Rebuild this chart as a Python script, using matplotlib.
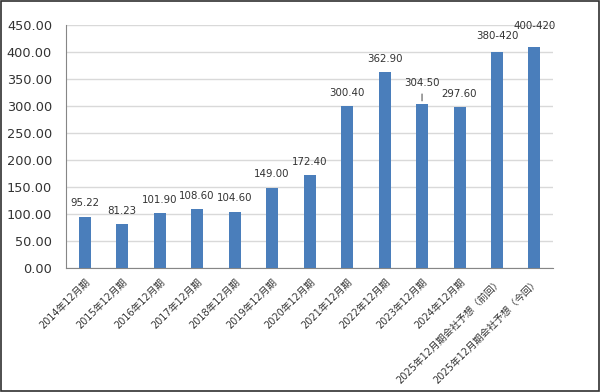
import matplotlib.pyplot as plt
import numpy as np

plt.rcParams['font.family'] = ['DejaVu Sans', 'Noto Sans CJK JP']

periods = ['2014年12月期', '2015年12月期', '2016年12月期', '2017年12月期',
           '2018年12月期', '2019年12月期', '2020年12月期', '2021年12月期',
           '2022年12月期', '2023年12月期', '2024年12月期',
           '2025年12月期会社予想（前回）', '2025年12月期会社予想（今回）']
values = [95.22, 81.23, 101.90, 108.60, 104.60, 149.00, 172.40,
          300.40, 362.90, 304.50, 297.60, 400, 410]
value_labels = ['95.22', '81.23', '101.90', '108.60', '104.60', '149.00', '172.40',
                '300.40', '362.90', '304.50', '297.60', '380-420', '400-420']

x = np.arange(len(periods))

fig = plt.figure(figsize=(6, 3.92), dpi=100)
ax = fig.add_axes([0.11, 0.316, 0.812, 0.62])

ax.bar(x, values, width=0.32, color='#4a7ebb', zorder=3)

for i, (v, lab) in enumerate(zip(values, value_labels)):
    off = 6
    if lab == '304.50':
        off = 11
        ax.annotate('', xy=(i, v), xytext=(0, 9), textcoords='offset points',
                    arrowprops=dict(arrowstyle='-', color='#404040', lw=0.7))
    if lab == '380-420':
        off = 8
    if lab == '400-420':
        off = 11
    ax.annotate(lab, xy=(i, v), xytext=(0, off), textcoords='offset points',
                ha='center', va='bottom', fontsize=7.4, color='#333333')

ax.set_xlim(-0.5, len(periods) - 0.5)
ax.set_ylim(0, 450)
ax.set_yticks(np.arange(0, 451, 50))
ax.set_yticklabels([f'{t:.2f}' for t in np.arange(0, 451, 50)], fontsize=9.3, color='#333333')
ax.set_xticks(x)
ax.set_xticklabels(periods, rotation=45, ha='right', rotation_mode='anchor',
                   fontsize=7, color='#333333')
ax.tick_params(axis='y', length=0, pad=10)
ax.tick_params(axis='x', length=0, pad=6)

ax.grid(axis='y', color='#d9d9d9', lw=1, zorder=0)
for s in ['top', 'right']:
    ax.spines[s].set_visible(False)
ax.spines['left'].set_color('#868686')
ax.spines['bottom'].set_color('#868686')

fig.patches.append(plt.Rectangle((0.001, 0.002), 0.997, 0.996, transform=fig.transFigure,
                                 fill=False, edgecolor='#303030', lw=1.2))

fig.savefig('out.png', dpi=100)
